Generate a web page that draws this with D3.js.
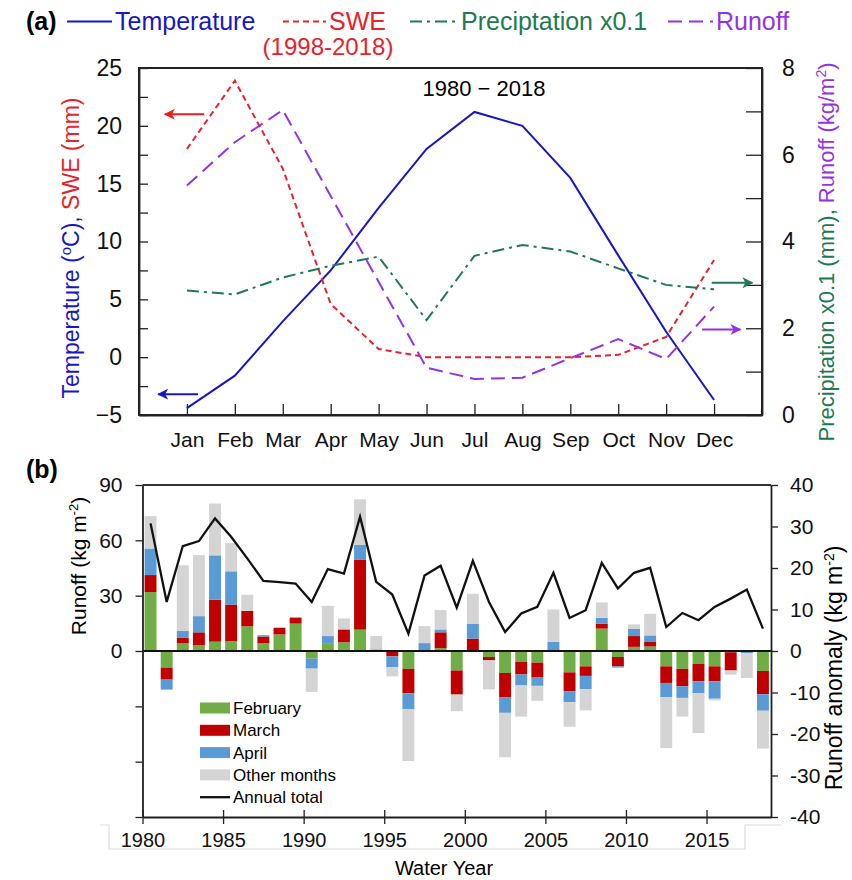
<!DOCTYPE html>
<html>
<head>
<meta charset="utf-8">
<script src="https://cdn.jsdelivr.net/npm/d3@7"></script>
<style>
  body { margin: 0; background: #fff; }
  svg { font-family: "Liberation Sans", Arial, sans-serif; }
</style>
</head>
<body>
<div id="chart"></div>
<script>
(function () {

  // ---------- panel (a): monthly means 1980-2018
  const months = ["Jan", "Feb", "Mar", "Apr", "May", "Jun", "Jul", "Aug", "Sep", "Oct", "Nov", "Dec"]
  const temperature = [-4.4, -1.6, 3.1, 7.5, 12.9, 18.0, 21.2, 20.0, 15.5, 8.8, 2.2, -3.7]   // degC, left
  const swe = [18.0, 23.9, 16.3, 4.6, 0.7, 0, 0, 0, 0, 0.2, 1.75, 8.4]                         // mm, left
  const precipTenth = [2.87, 2.78, 3.17, 3.44, 3.65, 2.19, 3.67, 3.92, 3.77, 3.38, 3.0, 2.9]   // right
  const runoffMonthly = [5.29, 6.29, 7.03, 5.05, 3.07, 1.09, 0.83, 0.86, 1.31, 1.75, 1.29, 2.5] // right
  const leftTicksA = [-5, -2.5, 0, 2.5, 5, 7.5, 10, 12.5, 15, 17.5, 20, 22.5, 25]
  const rightTicksA = [0, 1, 2, 3, 4, 5, 6, 7, 8]

  // ---------- panel (b): yearly runoff
  const years = d3.range(1980, 2019)
  const annualTotal = [69.2, 26.6, 56.9, 59.6, 71.9, 61.9, 50.2, 38.0, 37.3, 36.6,
    26.6, 44.4, 42.0, 72.8, 37.5, 30.6, 9.4, 40.9, 46.2, 23.5,
    48.9, 26.6, 10.3, 20.3, 23.9, 42.4, 17.9, 22.1, 47.8, 33.9,
    42.4, 45.1, 13.0, 20.6, 16.7, 23.9, 28.4, 33.3, 12.1]
  const febAnom = [14.2, -4.0, 1.85, 1.4, 2.25, 2.4, 5.95, 1.9, 4.0, 6.6,
    -1.85, 1.9, 2.1, 5.15, 0.4, 0, -4.3, 0, 0.7, -4.7,
    0, -1.45, -5.3, -2.65, -2.8, 0, -5.15, -3.7, 5.4, -1.45,
    1.0, 1.1, -3.7, -4.3, -3.1, -3.7, -0.3, 0, -4.8]
  const marAnom = [4.1, -2.9, 1.3, 3.1, 10.1, 8.8, 3.7, 1.6, 1.6, 1.45,
    0, 0, 3.1, 16.9, 0, -1.3, -5.9, 0, 3.8, -5.8,
    3.0, -0.8, -5.8, -3.0, -3.6, 0, -4.6, -2.3, 1.2, -2.25,
    2.6, 1.2, -4.0, -4.2, -4.2, -3.6, -4.4, 0, -5.6]
  const aprAnom = [6.4, -2.4, 1.7, 3.9, 10.7, 8.0, 0, 0.3, 0, 0,
    -2.4, 1.7, 0, 3.5, 0, -2.6, -3.8, 1.9, 0.7, 0,
    3.6, 0, -3.8, -2.65, -2.0, 2.2, -2.6, -3.2, 1.4, -0.3,
    1.7, 1.45, -3.4, -2.8, -2.9, -4.2, 0, -0.5, -4.0]
  const otherAnom = [7.8, 0, 15.8, 14.7, 12.5, 6.8, 3.9, 0, 0, 0,
    -5.6, 7.3, 2.65, 11.0, 3.2, -2.2, -12.5, 4.1, 4.7, -4.0,
    7.2, -7.0, -10.7, -7.5, -3.6, 7.8, -5.9, -5.1, 3.7, 0,
    1.1, 5.2, -12.3, -4.5, -9.6, -0.4, -1.0, -6.0, -9.1]
  const leftTicksB = [-90, -60, -30, 0, 30, 60, 90]
  const rightTicksB = [-40, -30, -20, -10, 0, 10, 20, 30, 40]
  const yearTicks = [1980, 1985, 1990, 1995, 2000, 2005, 2010, 2015]

  const svg = d3.select("#chart").append("svg")
    .attr("width", 852)
    .attr("height", 880)

  const defs = svg.append("defs")

  // =================== panel (a) ===================
  const xA = d3.scaleLinear().domain([0, 13]).range([139, 762])
  const yA = d3.scaleLinear().domain([-5, 25]).range([415, 68])
  const yA2 = d3.scaleLinear().domain([0, 8]).range([415, 68])

  const seriesA = [
    { name: "Temperature", values: temperature, scale: yA, color: "#1717c4", dash: null },
    { name: "SWE", values: swe, scale: yA, color: "#e8222a", dash: "6,4" },
    { name: "Preciptation x0.1", values: precipTenth, scale: yA2, color: "#1d7a52", dash: "12,5,3,5" },
    { name: "Runoff", values: runoffMonthly, scale: yA2, color: "#9433e6", dash: "14,7" }
  ]

  const gA = svg.append("g")

  gA.append("g")
    .attr("transform", "translate(139,0)")
    .call(d3.axisLeft(yA).tickValues(leftTicksA).tickSize(-9).tickSizeOuter(0).tickPadding(17)
      .tickFormat(d => d % 5 === 0 ? d3.format("d")(d) : ""))
    .call(styleAxis, 23)

  gA.append("g")
    .attr("transform", "translate(762,0)")
    .call(d3.axisRight(yA2).tickValues(rightTicksA).tickSize(-16).tickSizeOuter(0).tickPadding(20)
      .tickFormat(d => d % 2 === 0 ? d : ""))
    .call(styleAxis, 23)

  gA.append("g")
    .attr("transform", "translate(0,415)")
    .call(d3.axisBottom(xA).tickValues(d3.range(1, 13)).tickSize(-11).tickSizeOuter(0).tickPadding(17)
      .tickFormat(i => months[i - 1]))
    .call(styleAxis, 21)

  gA.append("rect")
    .attr("x", xA(0)).attr("y", yA(25))
    .attr("width", xA(13) - xA(0)).attr("height", yA(-5) - yA(25))
    .attr("fill", "none").attr("stroke", "#222").attr("stroke-width", 2)

  seriesA.forEach(s => {
    gA.append("path")
      .datum(s.values)
      .attr("fill", "none")
      .attr("stroke", s.color)
      .attr("stroke-width", 2)
      .attr("stroke-dasharray", s.dash)
      .attr("d", d3.line().x((d, i) => xA(i + 1)).y(d => s.scale(d)))
  })

  gA.append("text")
    .attr("x", xA(7.2)).attr("y", 96)
    .attr("text-anchor", "middle")
    .attr("font-size", 22)
    .text("1980 \u2212 2018")

  // arrows pointing to the axis each curve belongs to
  const arrows = [
    { color: "#ee1c1c", from: 1.36, to: 0.54, y: yA(21) },
    { color: "#1717c4", from: 1.23, to: 0.40, y: yA(-3.2) },
    { color: "#1d7a52", from: 11.95, to: 12.8, y: yA2(3.05) },
    { color: "#9433e6", from: 11.75, to: 12.55, y: yA2(1.97) }
  ]
  arrows.forEach((a, i) => {
    defs.append("marker")
      .attr("id", "head" + i)
      .attr("viewBox", "0 0 12 12")
      .attr("refX", 10).attr("refY", 6)
      .attr("markerWidth", 12).attr("markerHeight", 12)
      .attr("markerUnits", "userSpaceOnUse")
      .attr("orient", "auto")
      .append("path")
      .attr("d", "M0,0.5 L11,6 L0,11.5 L3,6 Z")
      .attr("fill", a.color)
    gA.append("line")
      .attr("x1", xA(a.from)).attr("x2", xA(a.to))
      .attr("y1", a.y).attr("y2", a.y)
      .attr("stroke", a.color).attr("stroke-width", 2)
      .attr("marker-end", "url(#head" + i + ")")
  })

  // axis titles
  const lblA = gA.append("text")
    .attr("transform", "translate(79,248) rotate(-90)")
    .attr("text-anchor", "middle")
    .attr("font-size", 23)
  lblA.append("tspan").attr("fill", "#1717c4").text("Temperature (")
  lblA.append("tspan").attr("fill", "#1717c4").attr("font-size", 15).attr("dy", -8).text("o")
  lblA.append("tspan").attr("fill", "#1717c4").attr("dy", 8).text("C), ")
  lblA.append("tspan").attr("fill", "#e8222a").text("SWE (mm)")

  const rlblA = gA.append("text")
    .attr("transform", "translate(834,252) rotate(-90)")
    .attr("text-anchor", "middle")
    .attr("font-size", 22)
  rlblA.append("tspan").attr("fill", "#1d7a52").text("Precipitation x0.1 (mm), ")
  rlblA.append("tspan").attr("fill", "#9433e6").text("Runoff (kg/m")
  rlblA.append("tspan").attr("fill", "#9433e6").attr("font-size", 14).attr("dy", -8).text("2")
  rlblA.append("tspan").attr("fill", "#9433e6").attr("dy", 8).text(")")

  // legend on top
  svg.append("text").attr("x", 26).attr("y", 30)
    .attr("font-size", 25).attr("font-weight", "bold").text("(a)")
  const legA = [
    { s: seriesA[0], x0: 67, x1: 112 },
    { s: seriesA[1], x0: 283, x1: 326 },
    { s: seriesA[2], x0: 410, x1: 458 },
    { s: seriesA[3], x0: 668, x1: 713 }
  ]
  legA.forEach(l => {
    svg.append("line")
      .attr("x1", l.x0).attr("x2", l.x1).attr("y1", 21.5).attr("y2", 21.5)
      .attr("stroke", l.s.color).attr("stroke-width", 2)
      .attr("stroke-dasharray", l.s.dash)
    svg.append("text")
      .attr("x", l.x1 + 3).attr("y", 30)
      .attr("font-size", 25).attr("fill", l.s.color)
      .text(l.s.name)
  })
  svg.append("text").attr("x", 328).attr("y", 55)
    .attr("text-anchor", "middle").attr("font-size", 24).attr("fill", "#e8222a")
    .text("(1998-2018)")

  // =================== panel (b) ===================
  const xB = d3.scaleLinear().domain([1980, 2019]).range([142.5, 771])
  const band = d3.scaleBand().domain(years).range([142.5, 771]).paddingInner(0.26).paddingOuter(0.13)
  const yB = d3.scaleLinear().domain([-90, 90]).range([817, 485])
  const yB2 = d3.scaleLinear().domain([-40, 40]).range([817, 485])

  const keys = ["feb", "mar", "apr", "other"]
  const colorB = { feb: "#70ad47", mar: "#c00000", apr: "#5b9bd5", other: "#d4d4d4" }
  const labelB = { feb: "February", mar: "March", apr: "April", other: "Other months" }

  const table = years.map((y, i) => ({
    year: y, feb: febAnom[i], mar: marAnom[i], apr: aprAnom[i], other: otherAnom[i], total: annualTotal[i]
  }))

  const stacked = d3.stack().keys(keys).offset(d3.stackOffsetDiverging)(table)

  const gB = svg.append("g")

  gB.append("g")
    .selectAll("g")
    .data(stacked)
    .join("g")
    .attr("fill", d => colorB[d.key])
    .selectAll("rect")
    .data(d => d)
    .join("rect")
    .attr("x", d => band(d.data.year))
    .attr("width", band.bandwidth())
    .attr("y", d => yB2(Math.max(d[0], d[1])))
    .attr("height", d => Math.abs(yB2(d[0]) - yB2(d[1])))

  // zero line and top border
  gB.append("line")
    .attr("x1", xB(1980)).attr("x2", xB(2019))
    .attr("y1", yB2(0)).attr("y2", yB2(0))
    .attr("stroke", "#111").attr("stroke-width", 1.8)
  gB.append("line")
    .attr("x1", xB(1980)).attr("x2", xB(2019))
    .attr("y1", yB(90)).attr("y2", yB(90))
    .attr("stroke", "#333").attr("stroke-width", 1.8)

  gB.append("path")
    .datum(table)
    .attr("fill", "none")
    .attr("stroke", "#111")
    .attr("stroke-width", 2.3)
    .attr("d", d3.line().x(d => band(d.year) + band.bandwidth() / 2).y(d => yB(d.total)))

  gB.append("g")
    .attr("transform", "translate(" + xB(1980) + ",0)")
    .call(d3.axisLeft(yB).tickValues(leftTicksB).tickSize(7).tickSizeOuter(0).tickPadding(13)
      .tickFormat(d => d >= 0 ? d : ""))
    .call(styleAxis, 21)

  gB.append("g")
    .attr("transform", "translate(" + xB(2019) + ",0)")
    .call(d3.axisRight(yB2).tickValues(rightTicksB).tickSize(7).tickSizeOuter(0).tickPadding(12)
      .tickFormat(d => String(d)))
    .call(styleAxis, 21)

  // frame behind the year labels
  gB.append("path")
    .attr("d", "M100,825 H109 V849 H745 V825 H781")
    .attr("fill", "none").attr("stroke", "#ddd").attr("stroke-width", 1.2)

  gB.append("g")
    .attr("transform", "translate(0," + yB(-90) + ")")
    .call(d3.axisBottom(xB).tickValues(yearTicks).tickSize(7).tickSizeOuter(0).tickPadding(9)
      .tickFormat(d => d))
    .call(styleAxis, 20)
    .call(g => g.selectAll(".tick line").attr("y1", -7))

  gB.append("text")
    .attr("x", 444).attr("y", 875)
    .attr("text-anchor", "middle").attr("font-size", 20)
    .text("Water Year")

  svg.append("text").attr("x", 26).attr("y", 478)
    .attr("font-size", 25).attr("font-weight", "bold").text("(b)")

  const lblB = gB.append("text")
    .attr("transform", "translate(86,566) rotate(-90)")
    .attr("text-anchor", "middle").attr("font-size", 21)
  lblB.append("tspan").text("Runoff (kg m")
  lblB.append("tspan").attr("font-size", 13).attr("dy", -8).text("-2")
  lblB.append("tspan").attr("dy", 8).text(")")

  const rlblB = gB.append("text")
    .attr("transform", "translate(842,668) rotate(-90)")
    .attr("text-anchor", "middle").attr("font-size", 23)
  rlblB.append("tspan").text("Runoff anomaly (kg m")
  rlblB.append("tspan").attr("font-size", 14).attr("dy", -8).text("-2")
  rlblB.append("tspan").attr("dy", 8).text(")")

  // legend (b)
  const legB = gB.append("g").attr("transform", "translate(200,708)")
  keys.forEach((k, i) => {
    legB.append("rect")
      .attr("x", 0).attr("y", i * 22.3 - 5.5)
      .attr("width", 30).attr("height", 11)
      .attr("fill", colorB[k])
    legB.append("text")
      .attr("x", 33).attr("y", i * 22.3 + 6)
      .attr("font-size", 17)
      .text(labelB[k])
  })
  legB.append("line")
    .attr("x1", 0).attr("x2", 30).attr("y1", 4 * 22.3).attr("y2", 4 * 22.3)
    .attr("stroke", "#111").attr("stroke-width", 2.3)
  legB.append("text")
    .attr("x", 33).attr("y", 4 * 22.3 + 6)
    .attr("font-size", 17)
    .text("Annual total")

  function styleAxis(g, size) {
    g.select(".domain").attr("stroke", "#222").attr("stroke-width", 1.8)
    g.selectAll(".tick line").attr("stroke", "#222").attr("stroke-width", 1.3)
    g.selectAll(".tick text")
      .attr("font-size", size)
      .attr("font-family", "'Liberation Sans', Arial, sans-serif")
      .attr("fill", "#111")
  }

})();
</script>
</body>
</html>
